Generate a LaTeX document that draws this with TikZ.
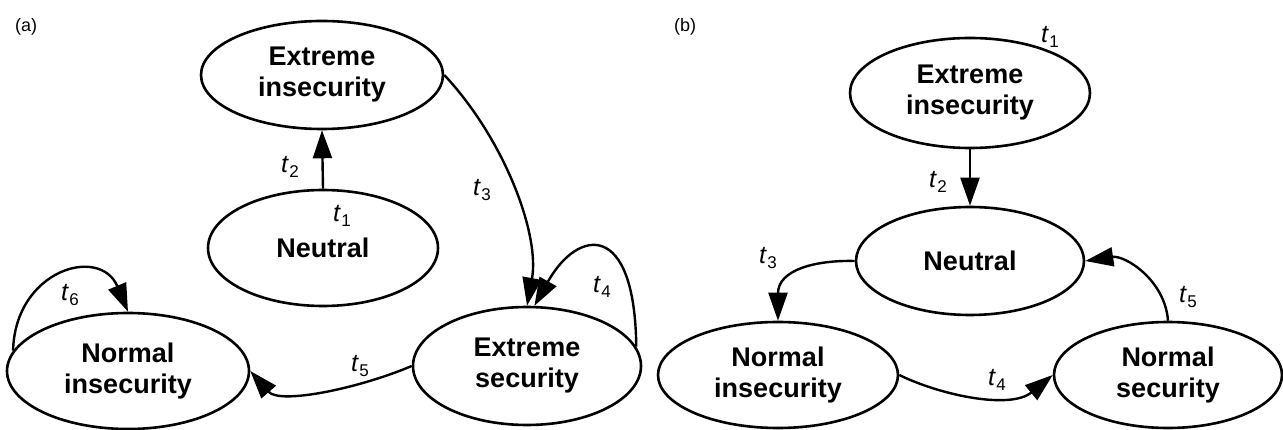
\documentclass[tikz,border=0pt]{standalone}
\usepackage{fontspec}
\setmainfont{Liberation Sans}
\usetikzlibrary{shapes.geometric,arrows.meta}
\newcommand{\tsub}[2]{\textit{t}\kern0.5pt\raisebox{-5pt}{\fontsize{17}{17}\selectfont #2}}
\begin{document}
\begin{tikzpicture}[x=1pt,y=-1pt,
  state/.style={ellipse, draw, line width=2.6pt, inner sep=0pt, align=center,
    font=\fontsize{27}{31}\selectfont\bfseries},
  conn/.style={line width=2.4pt, -{Triangle[length=28pt,width=19pt]}},
  lab/.style={font=\fontsize{25}{25}\selectfont, inner sep=0pt},
  panel/.style={font=\fontsize{18}{18}\selectfont, inner sep=0pt, anchor=west}]
\useasboundingbox (0,0) rectangle (1283,430);
% ---------- (a) ----------
\node[panel] (pa) at (15,27) {(a)};
\node[state, minimum width=242pt, minimum height=108pt] (ei) at (322,75) {Extreme\\insecurity};
\node[state, minimum width=230pt, minimum height=116pt] (neu) at (323,248) {Neutral};
\node[state, minimum width=228pt, minimum height=118pt] (es) at (527,366) {Extreme\\security};
\node[state, minimum width=242pt, minimum height=116pt] (ni) at (128,371) {Normal\\insecurity};
\draw[conn] (neu.north) -- (ei.south);
\draw[conn] (ei.east) .. controls (505,140) and (540,235) .. (es.north);
\draw[conn] (es.10) .. controls (635,220) and (578,228) .. (es.83);
\draw[conn] (es.west) .. controls (360,388) and (280,405) .. (ni.east);
\draw[conn] (ni.170) .. controls (15,270) and (100,245) .. (ni.north);
\node[lab] (a1) at (342,216) {\tsub{t}{1}};
\node[lab] (a2) at (290,167) {\tsub{t}{2}};
\node[lab] (a3) at (482,190) {\tsub{t}{3}};
\node[lab] (a4) at (602,287) {\tsub{t}{4}};
\node[lab] (a5) at (360,366) {\tsub{t}{5}};
\node[lab] (a6) at (70,295) {\tsub{t}{6}};
% ---------- (b) ----------
\node[panel] (pb) at (674,27) {(b)};
\node[state, minimum width=240pt, minimum height=110pt] (ei2) at (970,93) {Extreme\\insecurity};
\node[state, minimum width=228pt, minimum height=108pt] (n2) at (970,261) {Neutral};
\node[state, minimum width=240pt, minimum height=106pt] (ni2) at (778,375) {Normal\\insecurity};
\node[state, minimum width=228pt, minimum height=106pt] (ns2) at (1168,375) {Normal\\security};
\draw[conn] (ei2.south) -- (n2.north);
\draw[conn] (n2.west) .. controls (815,260) and (778,270) .. (ni2.north);
\draw[conn] (ni2.east) .. controls (940,395) and (1010,410) .. (ns2.west);
\draw[conn] (ns2.north) .. controls (1165,280) and (1125,255) .. (n2.east);
\node[lab] (b1) at (1050,37) {\tsub{t}{1}};
\node[lab] (b2) at (938,182) {\tsub{t}{2}};
\node[lab] (b3) at (768,258) {\tsub{t}{3}};
\node[lab] (b4) at (997,380) {\tsub{t}{4}};
\node[lab] (b5) at (1188,297) {\tsub{t}{5}};
\end{tikzpicture}
\end{document}
